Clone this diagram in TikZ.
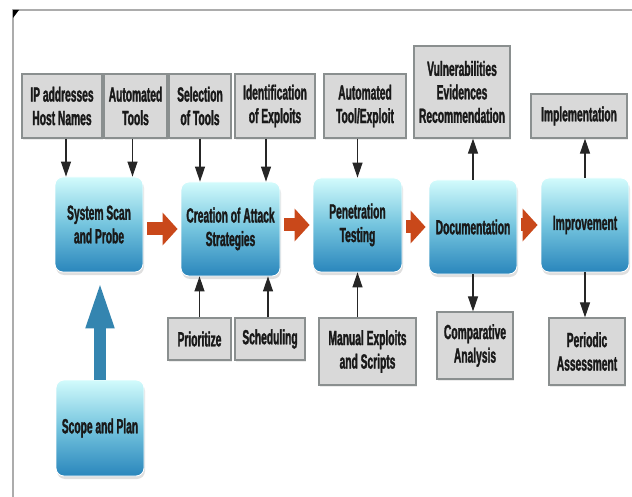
\documentclass[tikz,border=0pt]{standalone}
\usepackage{fontspec}
\newfontfamily\narrowfont{Liberation Sans}[FakeStretch=0.5, BoldFeatures={FakeBold=1.4}]
\usetikzlibrary{arrows.meta}
\usetikzlibrary{shadows}
\definecolor{boxgray}{HTML}{D9D9D9}
\definecolor{edgegray}{HTML}{8A8F8F}
\definecolor{flowred}{HTML}{C9481A}
\definecolor{planblue}{HTML}{3485B0}
\definecolor{toplight}{HTML}{D2FBFC}
\definecolor{midblue}{HTML}{74C4DE}
\definecolor{lowblue}{HTML}{2A86BC}

\begin{document}
\begin{tikzpicture}[x=1pt, y=-1pt,
    font=\narrowfont\bfseries\fontsize{20.5}{23.5}\selectfont,
    mainbox/.style={rounded corners=8pt, top color=toplight, bottom color=lowblue,
      middle color=midblue, draw=white, line width=0.8pt, align=center, inner sep=0pt,
      text=black!90, drop shadow={opacity=0.25, shadow xshift=1pt, shadow yshift=-3pt}},
    graybox/.style={fill=boxgray, draw=edgegray, line width=1.2pt, align=center,
      inner sep=0pt, text=black!90,
      drop shadow={opacity=0.15, shadow xshift=1pt, shadow yshift=-2pt}},
    flowarrow/.style={draw=flowred, line width=13pt, -{Triangle[length=15pt,width=32pt]},
      shorten <=4pt, shorten >=3pt},
    thinarrow/.style={draw=black!85, line width=1.1pt, -{Triangle[length=15pt,width=10pt]}},
    bigarrow/.style={draw=planblue, line width=12pt, -{Triangle[length=49pt,width=25pt]},
      shorten >=7pt}]
  \useasboundingbox (0,0) rectangle (632,497);
  % frame
  \draw [gray!65, line width=1.5pt] (13,497) -- (13,10) -- (632,10);
  \fill [black] (13,10) -- (19,10) -- (13,18) -- cycle;

  % main steps
  \node [mainbox, minimum width=88pt, minimum height=95pt] (ss) at (99,224.5) {System Scan\\and Probe};
  \node [mainbox, minimum width=99pt, minimum height=94pt] (cr) at (230.5,229) {Creation of Attack\\Strategies};
  \node [mainbox, minimum width=89pt, minimum height=94pt] (pt) at (357.5,225) {Penetration\\Testing};
  \node [mainbox, minimum width=88pt, minimum height=94pt] (doc) at (473,227) {Documentation};
  \node [mainbox, minimum width=88pt, minimum height=94pt] (imp) at (585,225) {Improvement};
  \node [mainbox, minimum width=88pt, minimum height=96pt] (sp) at (100,428) {Scope and Plan};

  % inputs above
  \node [graybox, minimum width=80pt, minimum height=64pt] (ip) at (62,106) {IP addresses\\Host Names};
  \node [graybox, minimum width=63pt, minimum height=64pt] (at) at (135.5,106) {Automated\\Tools};
  \node [graybox, minimum width=62pt, minimum height=64pt] (sel) at (200,106) {Selection\\of Tools};
  \node [graybox, minimum width=80pt, minimum height=64pt] (id) at (275,106) {Identification\\of Exploits};
  \node [graybox, minimum width=82pt, minimum height=64pt] (ate) at (365,106) {Automated\\Tool/Exploit};
  \node [graybox, minimum width=96pt, minimum height=92pt] (vul) at (462,92) {Vulnerabilities\\Evidences\\Recommendation};
  \node [graybox, minimum width=96pt, minimum height=44pt] (impl) at (579,116) {Implementation};

  % inputs below
  \node [graybox, minimum width=63pt, minimum height=42pt] (pri) at (199.5,339) {Prioritize};
  \node [graybox, minimum width=70pt, minimum height=42pt] (sch) at (270,339) {Scheduling};
  \node [graybox, minimum width=97pt, minimum height=67pt] (man) at (367.5,351.5) {Manual Exploits\\and Scripts};
  \node [graybox, minimum width=76pt, minimum height=67pt] (cmp) at (475,345.5) {Comparative\\Analysis};
  \node [graybox, minimum width=76pt, minimum height=67pt] (per) at (587,351.5) {Periodic\\Assessment};

  % flow
  \draw [flowarrow] (ss.east |- cr.west) -- (cr.west);
  \draw [flowarrow] (cr.east |- pt.west) -- (pt.west);
  \draw [flowarrow] (pt.east |- doc.west) -- (doc.west);
  \draw [flowarrow] (doc.east |- imp.west) -- (imp.west);
  \draw [bigarrow] (sp.north) -- (sp.north |- ss.south);

  % thin arrows
  \draw [thinarrow] ([xshift=4pt]ip.south) -- ([xshift=4pt]ip.south |- ss.north);
  \draw [thinarrow] ([xshift=-3pt]at.south) -- ([xshift=-3pt]at.south |- ss.north);
  \draw [thinarrow] (sel.south) -- (sel.south |- cr.north);
  \draw [thinarrow] ([xshift=-9pt]id.south) -- ([xshift=-9pt]id.south |- cr.north);
  \draw [thinarrow] (pt.north |- ate.south) -- (pt.north);
  \draw [thinarrow] (doc.north) -- (doc.north |- vul.south);
  \draw [thinarrow] (imp.north) -- (imp.north |- impl.south);
  \draw [thinarrow] (pri.north) -- (pri.north |- cr.south);
  \draw [thinarrow] ([xshift=-2pt]sch.north) -- ([xshift=-2pt]sch.north |- cr.south);
  \draw [thinarrow] (pt.south |- man.north) -- (pt.south);
  \draw [thinarrow] (doc.south) -- (doc.south |- cmp.north);
  \draw [thinarrow] (imp.south) -- (imp.south |- per.north);
\end{tikzpicture}
\end{document}
